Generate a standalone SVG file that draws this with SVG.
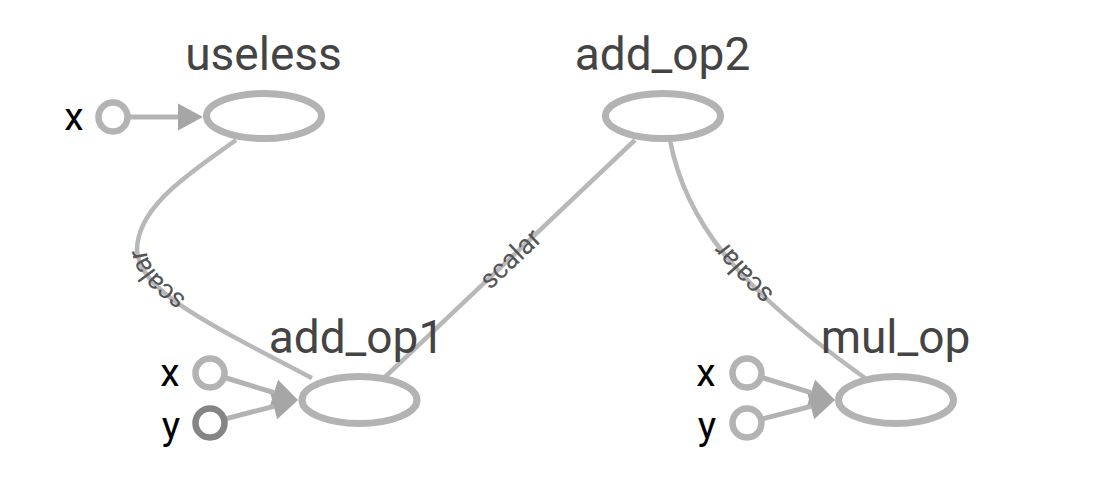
<svg xmlns="http://www.w3.org/2000/svg" xmlns:xlink="http://www.w3.org/1999/xlink" width="1112" height="490" viewBox="0 0 1112 490">
<style>
.op{fill:#fff;stroke:#b3b3b3;stroke-width:7}
.in{fill:#fff;stroke:#b3b3b3;stroke-width:6.5}
.in.dark{stroke:#858585}
.title{font-family:Roboto,"Liberation Sans",sans-serif;font-size:46px;fill:#444;text-anchor:middle}
.lbl{font-family:Roboto,"Liberation Sans",sans-serif;font-size:39px;fill:#000;text-anchor:middle}
.edge{fill:none;stroke:#b8b8b8;stroke-width:4.5}
.inedge{fill:none;stroke:#b3b3b3;stroke-width:5}
.elbl{font-family:Roboto,"Liberation Sans",sans-serif;font-size:27px;fill:#555;text-anchor:middle}
</style>
<defs>
<marker id="arrow" markerUnits="userSpaceOnUse" markerWidth="26" markerHeight="28" refX="0" refY="13.5" orient="auto" overflow="visible">
<path d="M0,0 L25,13.5 L0,27 Z" fill="#a6a6a6"/>
</marker>
<path id="p-useless" d="M 312,378 C 200,320 140,290 137,250 C 137,205 195,170 236,140"/>
<path id="p-add1" d="M 385,377 L 635,140"/>
<path id="p-mul" d="M 865,378 C 735,285 685,220 670,140"/>
</defs>
<rect width="1112" height="490" fill="#fff"/>
<g id="connectors">
<use xlink:href="#p-useless" class="edge"/>
<use xlink:href="#p-add1" class="edge"/>
<use xlink:href="#p-mul" class="edge"/>
<line class="inedge" x1="130" y1="117" x2="178" y2="117" marker-end="url(#arrow)"/>
<line class="inedge" x1="226.3" y1="378" x2="274.1" y2="392.7" marker-end="url(#arrow)"/>
<line class="inedge" x1="226.4" y1="418.7" x2="273.8" y2="406.3" marker-end="url(#arrow)"/>
<line class="inedge" x1="763.3" y1="378" x2="811.1" y2="392.7" marker-end="url(#arrow)"/>
<line class="inedge" x1="763.4" y1="418.7" x2="810.8" y2="406.3" marker-end="url(#arrow)"/>
<text class="elbl" dy="9.5"><textPath xlink:href="#p-useless" startOffset="186">scalar</textPath></text>
<text class="elbl" dy="9.5"><textPath xlink:href="#p-add1" startOffset="50%">scalar</textPath></text>
<text class="elbl" dy="9.5"><textPath xlink:href="#p-mul" startOffset="161">scalar</textPath></text>
</g>
<g id="useless">
<ellipse class="op" cx="264" cy="116" rx="57.5" ry="22.5"/>
<text class="title" x="263.5" y="70">useless</text>
</g>
<g id="useless-x">
<circle class="in" cx="113" cy="117" r="14.5"/>
<text class="lbl" x="74" y="130">x</text>
</g>
<g id="add_op2">
<ellipse class="op" cx="663" cy="116" rx="57.5" ry="22.5"/>
<text class="title" x="662.5" y="70">add_op2</text>
</g>
<g id="add_op1">
<ellipse class="op" cx="359.5" cy="400" rx="57.5" ry="23.5"/>
<text class="title" x="356.5" y="353">add_op1</text>
</g>
<g id="add_op1-x">
<circle class="in" cx="210" cy="373" r="14.5"/>
<text class="lbl" x="170" y="386">x</text>
</g>
<g id="add_op1-y">
<circle class="in dark" cx="210" cy="423" r="14.5"/>
<text class="lbl" x="171" y="439">y</text>
</g>
<g id="mul_op">
<ellipse class="op" cx="896" cy="400" rx="57.5" ry="23.5"/>
<text class="title" x="895.5" y="353">mul_op</text>
</g>
<g id="mul_op-x">
<circle class="in" cx="747" cy="373" r="14.5"/>
<text class="lbl" x="706" y="386">x</text>
</g>
<g id="mul_op-y">
<circle class="in" cx="747" cy="423" r="14.5"/>
<text class="lbl" x="707" y="439">y</text>
</g>
</svg>
